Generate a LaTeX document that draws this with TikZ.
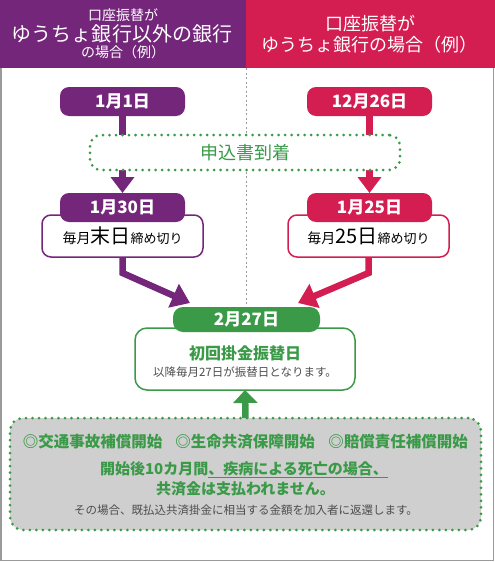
\documentclass[tikz,border=0pt]{standalone}
\usepackage{fontspec}
\setmainfont{Noto Sans CJK JP}
\usetikzlibrary{arrows.meta,backgrounds}
\definecolor{cpur}{HTML}{74267A}
\definecolor{cred}{HTML}{D41E52}
\definecolor{cgrn}{HTML}{3A9A48}
\definecolor{cgbox}{HTML}{CFCFCF}
\definecolor{ctxt}{HTML}{4D4D4D}
\definecolor{cframe}{HTML}{9A9A9A}
\newcommand{\fs}[1]{\fontsize{#1}{#1}\selectfont}
\begin{document}
\begin{tikzpicture}[x=1pt,y=-1pt,
  every node/.style={inner sep=0pt, outer sep=0pt},
  hdrtxt/.style={text=white},
  datebox/.style={rounded corners=9pt, minimum width=125pt, minimum height=29pt, text=white, font=\fs{17}\bfseries},
  wbox/.style={draw, fill=white, line width=1.5pt, rounded corners=9pt, minimum width=161pt, minimum height=42pt},
  dotbox/.style={draw=cgrn, line width=3pt, dash pattern=on 0pt off 6.5pt, line cap=round},
  shaft/.style={line width=6.5pt, line join=miter},
  tipv/.style={-{Triangle[width=23pt,length=16pt]}},
  tipd/.style={-{Triangle[width=25pt,length=18pt]}},
]
\useasboundingbox (0,0) rectangle (495,562);
% frame and header
\draw[cframe, line width=1.5pt] (1,0) rectangle (493.5,560.5);
\fill[cpur] (0,0) rectangle (246,68);
\fill[cred] (246,0) rectangle (495,68);
\node[hdrtxt, font=\fs{14}] (hl1) at (123,15) {口座振替が};
\node[hdrtxt, font=\fs{20}] (hl2) at (122,33.5) {ゆうちょ銀行以外の銀行};
\node[hdrtxt, font=\fs{14}] (hl3) at (123,52) {の場合（例）};
\node[hdrtxt, font=\fs{18}] (hr1) at (370,24) {口座振替が};
\node[hdrtxt, font=\fs{18}] (hr2) at (369,45) {ゆうちょ銀行の場合（例）};

% nodes
\node[datebox, fill=cpur] (d1) at (122.5,101.5) {1月1日};
\node[datebox, fill=cred] (d26) at (369.5,101.5) {12月26日};
\node[dotbox, fill=white, rounded corners=11pt, minimum width=310pt, minimum height=35pt,
      text=cgrn, font=\fs{18}] (mo) at (245,152.5) {申込書到着};
\node[wbox, draw=cpur] (w30) at (122.5,236) {{\fs{14}毎月}{\fs{20}末日}{\fs{13}締め切り}};
\node[datebox, fill=cpur] (d30) at (122.5,207.5) {1月30日};
\node[wbox, draw=cred] (w25) at (368.5,236) {{\fs{14}毎月}{\fs{20}25日}{\fs{13}締め切り}};
\node[datebox, fill=cred] (d25) at (369.5,207.5) {1月25日};

\node[wbox, draw=cgrn, minimum width=220pt, minimum height=62pt, rounded corners=12pt] (w27) at (245,359) {};
\node[datebox, fill=cgrn, minimum width=147pt, minimum height=25pt, rounded corners=10pt] (d27) at (246.5,319.5) {2月27日};
\node[text=cgrn, font=\fs{16}\bfseries] (t27a) at (245,353) {初回掛金振替日};
\node[text=ctxt, font=\fs{11.5}] (t27b) at (245,372) {以降毎月27日が振替日となります。};

\node[dotbox, fill=cgbox, rounded corners=13pt, minimum width=471pt, minimum height=112pt] (bb) at (245.5,474) {};
\node[text=cgrn, font=\fs{15.5}\bfseries] (b1) at (92.5,442) {◎交通事故補償開始};
\node[text=cgrn, font=\fs{15.5}\bfseries] (b2) at (245,442) {◎生命共済保障開始};
\node[text=cgrn, font=\fs{15.5}\bfseries] (b3) at (398,442) {◎賠償責任補償開始};
\node[text=cgrn, font=\fs{15}\bfseries] (b4) at (244,470) {開始後10カ月間\underline{、疾病による死亡の場合、}};
\node[text=cgrn, font=\fs{15}\bfseries] (b5) at (245.5,489) {共済金は支払われません。};
\node[text=ctxt, font=\fs{11.5}] (b6) at (246,510) {その場合、既払込共済掛金に相当する金額を加入者に返還します。};

\coordinate (tl) at (190,303);
\coordinate (tr) at (298,303);

\begin{scope}[on background layer]
  \draw[cframe, line width=1pt, dash pattern=on 2pt off 2.5pt] (246,68) -- (d27.north -| 246,0);
  \draw[cpur, shaft, tipv] (d1.south) -- (d30.north);
  \draw[cred, shaft, tipv] (d26.south) -- (d25.north);
  \draw[cpur, shaft, tipd] (w30.south) -- ++(0,16) -- (tl);
  \draw[cred, shaft, tipd] (w25.south) -- ++(0,16) -- (tr);
  \draw[cgrn, shaft, -{Triangle[width=24pt,length=13pt]}] (bb.north) -- (w27.south);
\end{scope}
\end{tikzpicture}
\end{document}
